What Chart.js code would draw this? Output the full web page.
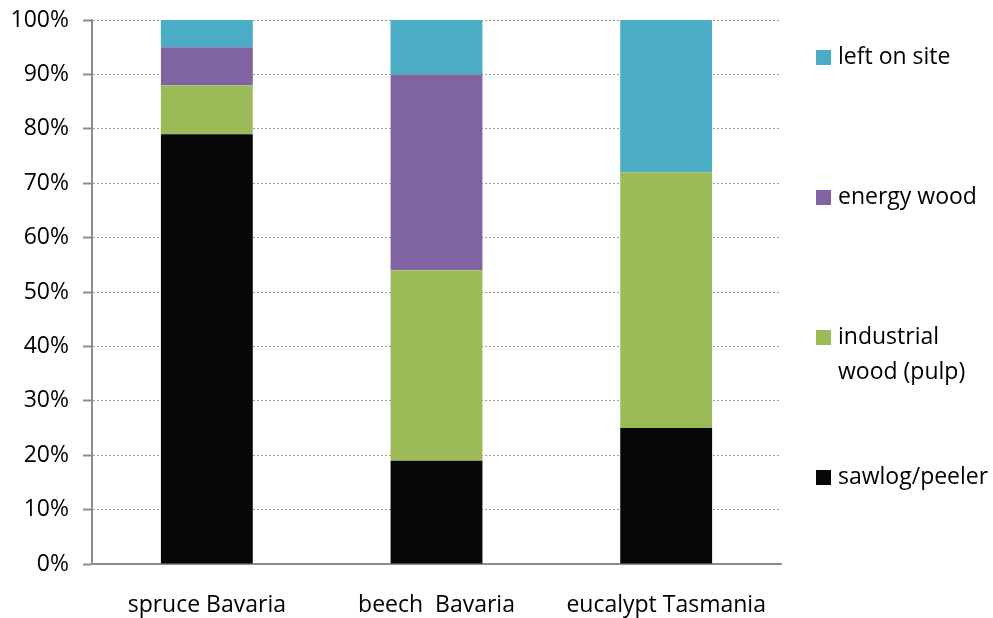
<!DOCTYPE html>
<html lang="en">
<head>
  <meta charset="UTF-8" />
  <title>Log use shares</title>
  <script src="https://cdn.jsdelivr.net/npm/chart.js"></script>
  <style>
    html, body { margin: 0; padding: 0; background: #fff; }
    .wrap { width: 993px; height: 618px; position: relative; }
  </style>
</head>
<body>
  <div class="wrap">
    <canvas id="barChart" width="993" height="618"></canvas>
  </div>

  <script>
    const categories = ["spruce Bavaria", "beech  Bavaria", "eucalypt Tasmania"];
    const sawlog = [79, 19, 25];
    const industrial = [9, 35, 47];
    const energy = [7, 36, 0];
    const leftOnSite = [5, 10, 28];

    const seriesNames = ["sawlog/peeler", ["industrial", "wood (pulp)"], "energy wood", "left on site"];
    const colors = ["#070707", "#9bbb59", "#8064a2", "#4bacc6"];

    const font = "'Open Sans', 'DejaVu Sans', sans-serif";

    // legend drawn by hand, spread down the right side like the original
    const sideLegend = {
      id: "sideLegend",
      afterDraw(chart) {
        const ctx = chart.ctx;
        const x = chart.chartArea.right + 35;
        const rows = [
          { i: 3, y: 57 },
          { i: 2, y: 197 },
          { i: 1, y: 337 },
          { i: 0, y: 477 }
        ];
        ctx.save();
        ctx.font = "23px " + font;
        ctx.textBaseline = "middle";
        rows.forEach(r => {
          ctx.fillStyle = colors[r.i];
          ctx.fillRect(x, r.y - 7, 15, 15);
          ctx.fillStyle = "#000";
          const name = seriesNames[r.i];
          const lines = Array.isArray(name) ? name : [name];
          lines.forEach((t, k) => ctx.fillText(t, x + 22, r.y + k * 35));
        });
        ctx.restore();
      }
    };

    new Chart(document.getElementById("barChart"), {
      type: "bar",
      data: {
        labels: categories,
        datasets: [
          { label: "sawlog/peeler", data: sawlog, backgroundColor: colors[0] },
          { label: "industrial wood (pulp)", data: industrial, backgroundColor: colors[1] },
          { label: "energy wood", data: energy, backgroundColor: colors[2] },
          { label: "left on site", data: leftOnSite, backgroundColor: colors[3] }
        ]
      },
      options: {
        responsive: false,
        animation: false,
        layout: { padding: { top: 20, right: 212, left: 0, bottom: 0 } },
        datasets: { bar: { categoryPercentage: 1, barPercentage: 0.4 } },
        plugins: {
          legend: { display: false },
          tooltip: { enabled: false }
        },
        scales: {
          x: {
            stacked: true,
            grid: { display: false, drawTicks: false },
            border: { display: true, color: "#8c8c8c", width: 2 },
            ticks: { color: "#000", font: { family: font, size: 23 }, padding: 28 },
            afterFit(scale) {
              scale.height = 54;
              scale.paddingLeft = 0;
              scale.paddingRight = 0;
            }
          },
          y: {
            stacked: true,
            min: 0,
            max: 100,
            ticks: {
              stepSize: 10,
              color: "#000",
              font: { family: font, size: 23 },
              padding: 14,
              callback: v => v + "%"
            },
            grid: { color: "#9a9a9a", tickColor: "#8c8c8c", tickLength: 9, tickWidth: 2 },
            border: { display: true, color: "#8c8c8c", width: 2, dash: [2, 2] },
            afterFit(scale) {
              scale.width = 92;
              scale.paddingTop = 0;
              scale.paddingBottom = 0;
            }
          }
        }
      },
      plugins: [sideLegend]
    });
  </script>
</body>
</html>
